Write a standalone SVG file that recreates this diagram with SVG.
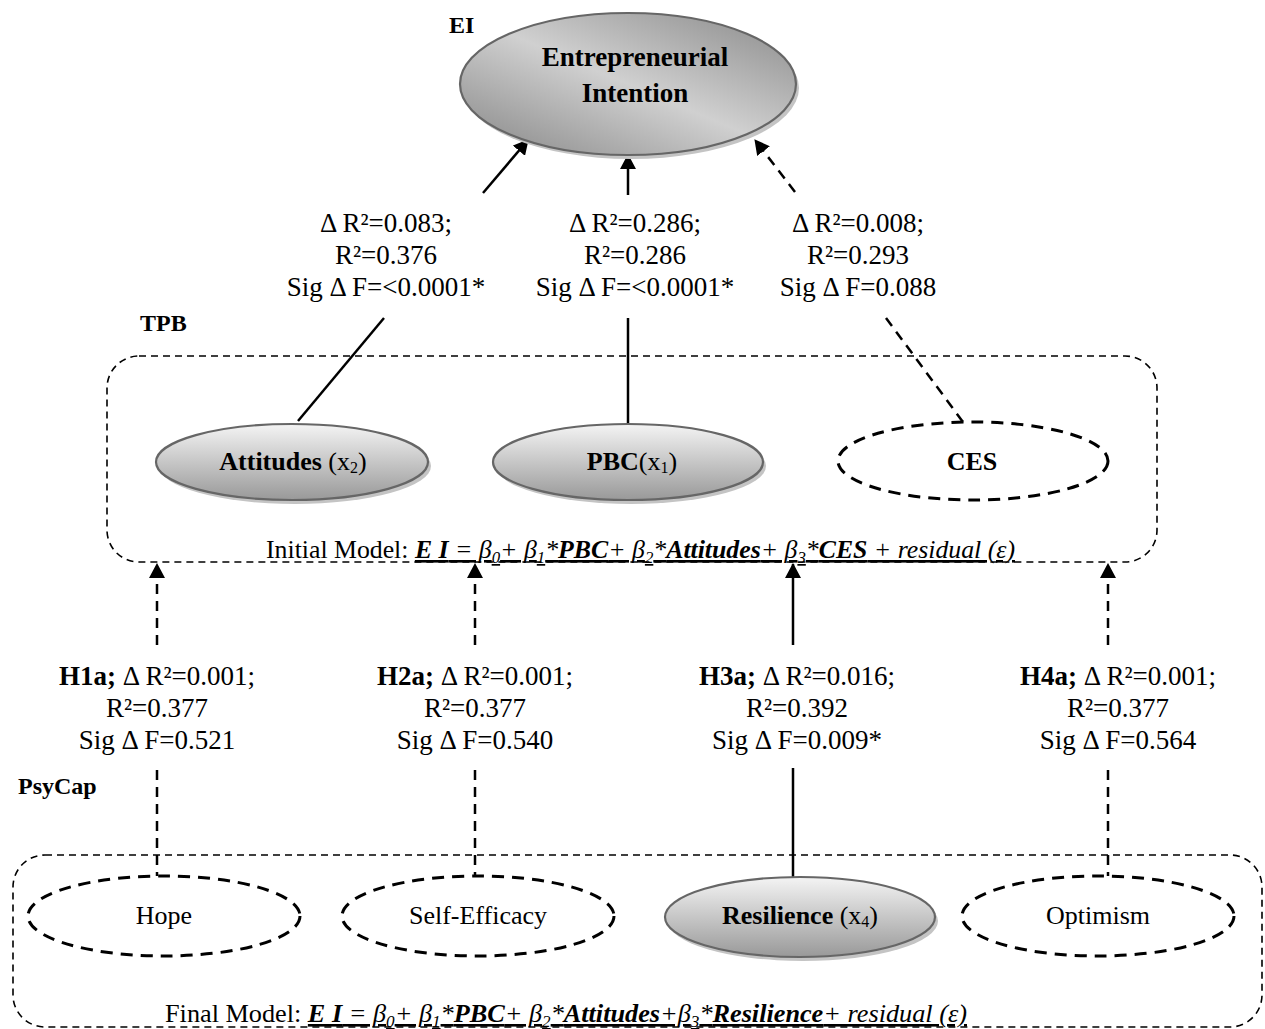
<svg xmlns="http://www.w3.org/2000/svg" width="1265" height="1029" viewBox="0 0 1265 1029">
<style>
text{font-family:"Liberation Serif","Times New Roman",serif;fill:#000}
.lbl{font-size:27px;text-anchor:middle}
.b{font-weight:bold}
.hdr{font-weight:bold;font-size:24px}
.nt{font-size:26px;text-anchor:middle}
.solid{fill:none;stroke:#000;stroke-width:2.5}
.dash{fill:none;stroke:#000;stroke-width:2.5;stroke-dasharray:10 7}
.box{fill:none;stroke:#000;stroke-width:1.6;stroke-dasharray:7 5}
.gnode{fill:url(#gN);stroke:#666;stroke-width:2.2}
.dnode{fill:#fff;stroke:#000;stroke-width:3;stroke-dasharray:12 8}
.shadow{fill:#c4c4c4}
.eq{font-size:26px}
</style>
<defs>
<linearGradient id="gEI" x1="0" y1="1" x2="1" y2="0">
<stop offset="0" stop-color="#858585"/>
<stop offset="0.5" stop-color="#d0d0d0"/>
<stop offset="1" stop-color="#888888"/>
</linearGradient>
<linearGradient id="gN" x1="0" y1="0" x2="0" y2="1">
<stop offset="0" stop-color="#f4f4f4"/>
<stop offset="1" stop-color="#999999"/>
</linearGradient>
<marker id="ah" markerUnits="userSpaceOnUse" viewBox="0 0 15 16" markerWidth="15" markerHeight="16" refX="14" refY="8" orient="auto">
<path d="M0,0 L15,8 L0,16 z" fill="#000"/>
</marker>
</defs>

<!-- group boxes -->
<g id="tpb-box">
<rect class="box" x="107" y="356" width="1050" height="206" rx="32" ry="32"/>
<text x="140" y="331" class="hdr">TPB</text>
<text x="266" y="558" class="eq" textLength="749" lengthAdjust="spacingAndGlyphs">Initial Model: <tspan font-style="italic" text-decoration="underline"><tspan font-weight="bold">E I</tspan> = β<tspan font-size="17" dy="5">0</tspan><tspan dy="-5">+ β</tspan><tspan font-size="17" dy="5">1</tspan><tspan dy="-5">*</tspan><tspan font-weight="bold">PBC</tspan>+ β<tspan font-size="17" dy="5">2</tspan><tspan dy="-5">*</tspan><tspan font-weight="bold">Attitudes</tspan>+ β<tspan font-size="17" dy="5">3</tspan><tspan dy="-5">*</tspan><tspan font-weight="bold">CES</tspan> + residual (ε)</tspan></text>
</g>

<g id="psycap-box">
<rect class="box" x="13" y="855" width="1249" height="172" rx="32" ry="32"/>
<text x="18" y="794" class="hdr">PsyCap</text>
<text x="165" y="1022" class="eq" textLength="802" lengthAdjust="spacingAndGlyphs">Final Model: <tspan font-style="italic" text-decoration="underline"><tspan font-weight="bold">E I</tspan> = β<tspan font-size="17" dy="5">0</tspan><tspan dy="-5">+ β</tspan><tspan font-size="17" dy="5">1</tspan><tspan dy="-5">*</tspan><tspan font-weight="bold">PBC</tspan>+ β<tspan font-size="17" dy="5">2</tspan><tspan dy="-5">*</tspan><tspan font-weight="bold">Attitudes</tspan>+β<tspan font-size="17" dy="5">3</tspan><tspan dy="-5">*</tspan><tspan font-weight="bold">Resilience</tspan>+ residual (ε)</tspan></text>
</g>

<!-- connectors -->
<g id="connectors">
<line class="solid" x1="483" y1="193" x2="528" y2="140" marker-end="url(#ah)"/>
<line class="solid" x1="384" y1="318" x2="298" y2="421"/>
<line class="solid" x1="628" y1="195" x2="628" y2="155" marker-end="url(#ah)"/>
<line class="solid" x1="628" y1="318" x2="628" y2="423"/>
<line class="dash" x1="795" y1="192" x2="755" y2="140" marker-end="url(#ah)"/>
<line class="dash" x1="886" y1="318" x2="963" y2="422"/>

<line class="dash" x1="157" y1="645" x2="157" y2="564" marker-end="url(#ah)"/>
<line class="dash" x1="157" y1="770" x2="157" y2="876"/>
<line class="dash" x1="475" y1="645" x2="475" y2="564" marker-end="url(#ah)"/>
<line class="dash" x1="475" y1="770" x2="475" y2="876"/>
<line class="solid" x1="793" y1="645" x2="793" y2="564" marker-end="url(#ah)"/>
<line class="solid" x1="793" y1="768" x2="793" y2="877"/>
<line class="dash" x1="1108" y1="645" x2="1108" y2="564" marker-end="url(#ah)"/>
<line class="dash" x1="1108" y1="770" x2="1108" y2="876"/>

<g class="lbl">
<text x="386" y="232">Δ R²=0.083;</text>
<text x="386" y="264">R²=0.376</text>
<text x="386" y="296">Sig Δ F=&lt;0.0001*</text>
<text x="635" y="232">Δ R²=0.286;</text>
<text x="635" y="264">R²=0.286</text>
<text x="635" y="296">Sig Δ F=&lt;0.0001*</text>
<text x="858" y="232">Δ R²=0.008;</text>
<text x="858" y="264">R²=0.293</text>
<text x="858" y="296">Sig Δ F=0.088</text>

<text x="157" y="685"><tspan class="b">H1a;</tspan> Δ R²=0.001;</text>
<text x="157" y="717">R²=0.377</text>
<text x="157" y="749">Sig Δ F=0.521</text>
<text x="475" y="685"><tspan class="b">H2a;</tspan> Δ R²=0.001;</text>
<text x="475" y="717">R²=0.377</text>
<text x="475" y="749">Sig Δ F=0.540</text>
<text x="797" y="685"><tspan class="b">H3a;</tspan> Δ R²=0.016;</text>
<text x="797" y="717">R²=0.392</text>
<text x="797" y="749">Sig Δ F=0.009*</text>
<text x="1118" y="685"><tspan class="b">H4a;</tspan> Δ R²=0.001;</text>
<text x="1118" y="717">R²=0.377</text>
<text x="1118" y="749">Sig Δ F=0.564</text>
</g>
</g>

<!-- nodes -->
<g id="node-ei">
<ellipse class="shadow" cx="631" cy="88" rx="168" ry="71"/>
<ellipse cx="628" cy="84" rx="168" ry="71" fill="url(#gEI)" stroke="#666" stroke-width="2.2"/>
<text x="449" y="33" class="hdr">EI</text>
<text x="635" y="66" class="b" font-size="27" text-anchor="middle">Entrepreneurial</text>
<text x="635" y="102" class="b" font-size="27" text-anchor="middle">Intention</text>
</g>

<g id="node-attitudes">
<ellipse class="shadow" cx="295" cy="466" rx="136" ry="38"/>
<ellipse class="gnode" cx="292" cy="462" rx="136" ry="38"/>
<text x="293" y="470" class="nt"><tspan class="b">Attitudes</tspan> (x<tspan font-size="16" dy="3">2</tspan><tspan dy="-3">)</tspan></text>
</g>

<g id="node-pbc">
<ellipse class="shadow" cx="631" cy="466" rx="135" ry="38"/>
<ellipse class="gnode" cx="628" cy="462" rx="135" ry="38"/>
<text x="632" y="470" class="nt"><tspan class="b">PBC</tspan>(x<tspan font-size="16" dy="3">1</tspan><tspan dy="-3">)</tspan></text>
</g>

<g id="node-ces">
<ellipse class="dnode" cx="973" cy="461" rx="135" ry="39"/>
<text x="972" y="470" class="nt b">CES</text>
</g>

<g id="node-hope">
<ellipse class="dnode" cx="164" cy="916" rx="136" ry="40"/>
<text x="164" y="924" class="nt">Hope</text>
</g>

<g id="node-selfefficacy">
<ellipse class="dnode" cx="478" cy="916" rx="136" ry="40"/>
<text x="478" y="924" class="nt">Self-Efficacy</text>
</g>

<g id="node-resilience">
<ellipse class="shadow" cx="803" cy="921" rx="135" ry="40"/>
<ellipse class="gnode" cx="800" cy="917" rx="135" ry="40"/>
<text x="800" y="924" class="nt"><tspan class="b">Resilience</tspan> (x<tspan font-size="16" dy="3">4</tspan><tspan dy="-3">)</tspan></text>
</g>

<g id="node-optimism">
<ellipse class="dnode" cx="1098" cy="916" rx="136" ry="40"/>
<text x="1098" y="924" class="nt">Optimism</text>
</g>
</svg>
